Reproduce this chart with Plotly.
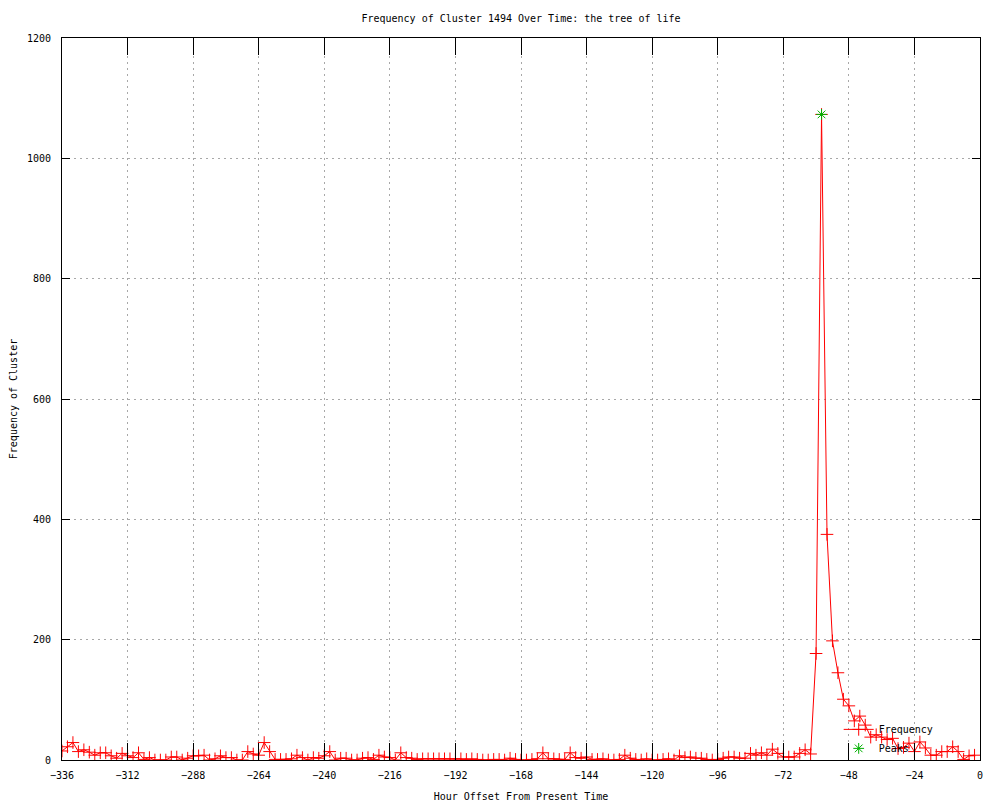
import plotly.graph_objects as go

hours = list(range(-336, 0, 2))
frequency = [
    15, 22, 29, 14, 17, 13, 8, 12, 12, 7,
    3, 11, 7, 4, 12, 1, 4, 0, 0, 0,
    5, 5, 0, 3, 7, 7, 8, 0, 2, 7,
    4, 4, 0, 0, 14, 10, 8, 29, 14, 1,
    1, 1, 2, 8, 4, 0, 4, 3, 7, 14,
    0, 3, 3, 0, 0, 3, 4, 1, 8, 5,
    4, 0, 12, 4, 3, 1, 2, 2, 2, 2,
    2, 2, 2, 2, 1, 2, 1, 0, 0, 1,
    1, 0, 3, 1, 0, 0, 1, 2, 12, 2,
    2, 1, 1, 12, 4, 3, 5, 1, 1, 2,
    0, 0, 1, 8, 3, 1, 0, 2, 0, 0,
    1, 2, 0, 7, 4, 5, 3, 3, 1, 0,
    1, 3, 5, 5, 3, 3, 11, 8, 12, 8,
    18, 11, 5, 5, 5, 11, 17, 10, 177, 1073,
    375, 198, 145, 101, 90, 65, 73, 58, 38, 42,
    38, 34, 36, 19, 21, 28, 14, 30, 20, 8,
    8, 14, 14, 22, 14, 1, 7, 8,
]
peak_hours = [-58]
peak_values = [1073]

x_ticks = list(range(-336, 1, 24))
y_ticks = list(range(0, 1201, 200))

assert len(hours) == len(frequency), (len(hours), len(frequency))

FONT = "DejaVu Sans Mono"

fig = go.Figure()
fig.add_trace(go.Scatter(
    x=hours, y=frequency, name="Frequency", mode="lines+markers",
    line=dict(color="#ff0000", width=1),
    marker=dict(symbol="cross-thin-open", size=9, color="#ff0000",
                line=dict(color="#ff0000", width=1)),
))
fig.add_trace(go.Scatter(
    x=peak_hours, y=peak_values, name="Peaks", mode="markers",
    marker=dict(symbol="asterisk-open", size=9, color="#00b000",
                line=dict(color="#00b000", width=1)),
))

axis_common = dict(
    showline=True, linecolor="black", linewidth=1, mirror="ticks",
    ticks="inside", tickcolor="black", tickwidth=1, automargin=False,
    showgrid=True, gridcolor="#a8a8a8", griddash="2px,4px", gridwidth=1,
    zeroline=False, tickfont=dict(family=FONT, size=10, color="black"),
)

fig.update_layout(
    width=1000, height=800,
    paper_bgcolor="white", plot_bgcolor="white",
    margin=dict(l=54, r=28, t=30, b=48, autoexpand=False),
    font=dict(family=FONT, size=10, color="black"),
    title=dict(text="Frequency of Cluster 1494 Over Time: the tree of life",
               x=0.5, xref="paper", y=1 - 10 / 800, yref="container",
               yanchor="middle", font=dict(family=FONT, size=10)),
    xaxis=dict(range=[-336, 0], tickvals=x_ticks, ticklen=17,
               ticklabelstandoff=6,
               title=dict(text="Hour Offset From Present Time", standoff=12,
                          font=dict(family=FONT, size=10)),
               **axis_common),
    yaxis=dict(range=[0, 1200], tickvals=y_ticks, ticklen=8,
               ticklabelstandoff=8,
               title=dict(text="Frequency of Cluster", standoff=10,
                          font=dict(family=FONT, size=10)),
               **axis_common),
    legend=dict(x=0.955, y=-0.004, xanchor="right", yanchor="bottom",
                bgcolor="rgba(0,0,0,0)", font=dict(family=FONT, size=10),
                tracegroupgap=0, itemwidth=30),
    showlegend=True,
)

fig.write_html("out.html")
